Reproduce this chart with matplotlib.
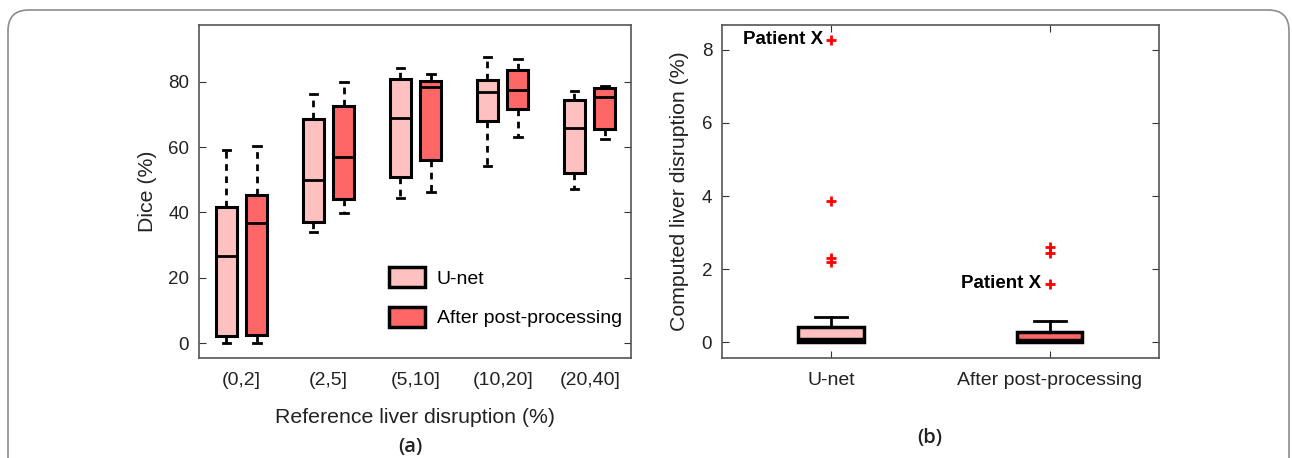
import matplotlib
import matplotlib.pyplot as plt
from matplotlib.patches import Patch, FancyBboxPatch

matplotlib.use('Agg')

plt.rcParams['font.family'] = ['Liberation Sans', 'DejaVu Sans']

# panel (a): dice per reference disruption bin
bins = ['(0,2]', '(2,5]', '(5,10]', '(10,20]', '(20,40]']
unet_lo = [0.0, 34.1, 44.3, 54.3, 47.3]
unet_q1 = [2.2, 37.0, 50.9, 67.9, 52.0]
unet_med = [26.5, 49.9, 69.0, 76.9, 65.9]
unet_q3 = [41.8, 68.6, 80.9, 80.7, 74.3]
unet_hi = [59.1, 76.2, 84.1, 87.6, 77.1]

post_lo = [0.0, 39.9, 46.2, 63.0, 62.5]
post_q1 = [2.5, 44.0, 56.2, 71.6, 65.6]
post_med = [36.9, 57.0, 78.5, 77.6, 75.4]
post_q3 = [45.4, 72.7, 80.2, 83.7, 78.0]
post_hi = [60.3, 80.0, 82.3, 87.1, 78.8]

# panel (b): computed disruption
methods = ['U-net', 'After post-processing']
b_lo = [0.0, 0.0]
b_q1 = [0.02, 0.02]
b_med = [0.10, 0.06]
b_q3 = [0.43, 0.29]
b_hi = [0.68, 0.57]
b_fliers = [[8.28, 3.87, 2.30, 2.21], [2.60, 2.45, 1.60]]
patient_x = [8.28, 1.60]

light = '#FFC0C0'
dark = '#FF6666'


def stats(lo, q1, med, q3, hi, fliers=None):
    out = []
    for i in range(len(med)):
        out.append(dict(whislo=lo[i], q1=q1[i], med=med[i], q3=q3[i], whishi=hi[i],
                        fliers=fliers[i] if fliers else []))
    return out


fig = plt.figure(figsize=(12.92, 4.58), dpi=100)

frame = FancyBboxPatch((8 / 1292, -0.2), 1281 / 1292, 1.2 - 10 / 458,
                       boxstyle='round,pad=0,rounding_size=0.016',
                       transform=fig.transFigure, fill=False, edgecolor='#8c8c8c', lw=1.2,
                       mutation_aspect=1292 / 458)
fig.patches.append(frame)

ax1 = fig.add_axes([0.154, 0.2183, 0.3344, 0.7271])
ax2 = fig.add_axes([0.5588, 0.2183, 0.3382, 0.7271])

pos_u = [1, 2, 3, 4, 5]
pos_p = [p + 0.35 for p in pos_u]
whisk = dict(color='black', lw=2, linestyle=(0, (2.4, 2.0)))
for st, pos, col in [(stats(unet_lo, unet_q1, unet_med, unet_q3, unet_hi), pos_u, light),
                     (stats(post_lo, post_q1, post_med, post_q3, post_hi), pos_p, dark)]:
    ax1.bxp(st, positions=pos, widths=0.24, patch_artist=True, showfliers=False,
            boxprops=dict(facecolor=col, edgecolor='black', lw=2.2),
            medianprops=dict(color='black', lw=2),
            whiskerprops=whisk, capprops=dict(color='black', lw=2), capwidths=0.09)

ax1.set_xlim(0.684, 5.65)
ax1.set_ylim(-4.6, 97.4)
ax1.set_yticks([0, 20, 40, 60, 80])
ax1.set_xticks([(u + p) / 2 for u, p in zip(pos_u, pos_p)])
ax1.set_xticklabels(bins)
ax1.set_ylabel('Dice (%)', fontsize=15.3, color='#222222', labelpad=8)
ax1.set_xlabel('Reference liver disruption (%)', fontsize=15.3, color='#222222', labelpad=13.5)
ax1.tick_params(axis='y', direction='in', right=True, length=5, labelsize=13.5, colors='#333333',
                labelcolor='#222222', pad=7)
ax1.tick_params(axis='x', length=0, labelsize=14, labelcolor='#222222', pad=10)

leg = ax1.legend(handles=[Patch(facecolor=light, edgecolor='black', lw=2.5, label='U-net'),
                          Patch(facecolor=dark, edgecolor='black', lw=2.5, label='After post-processing')],
                 loc='lower right', bbox_to_anchor=(1.019, 0.04), frameon=False, fontsize=14,
                 handlelength=1.85, handleheight=1.2, labelspacing=0.98, handletextpad=0.6)

st_b = stats(b_lo, b_q1, b_med, b_q3, b_hi, b_fliers)
parts = ax2.bxp(st_b, positions=[1, 2], widths=0.3, patch_artist=True,
                boxprops=dict(edgecolor='black', lw=2.5),
                medianprops=dict(color='black', lw=2.5),
                whiskerprops=dict(color='black', lw=2, linestyle='-'),
                capprops=dict(color='black', lw=2), capwidths=0.145,
                flierprops=dict(marker='+', markeredgecolor='red', markersize=7, markeredgewidth=2))
for box, col in zip(parts['boxes'], [light, dark]):
    box.set_facecolor(col)

for i, y in enumerate(patient_x):
    ax2.annotate('Patient X', xy=(i + 1, y), xytext=(-6, 0), textcoords='offset points',
                 ha='right', va='center', fontsize=13.5, fontweight='bold')

ax2.set_xlim(0.5, 2.5)
ax2.set_ylim(-0.43, 8.68)
ax2.set_yticks([0, 2, 4, 6, 8])
ax2.set_xticks([1, 2])
ax2.set_xticklabels(methods)
ax2.set_ylabel('Computed liver disruption (%)', fontsize=15.3, color='#222222', labelpad=9)
ax2.tick_params(axis='y', direction='in', right=True, length=5, labelsize=13.5, colors='#333333',
                labelcolor='#222222', pad=7)
ax2.tick_params(axis='x', direction='in', top=True, length=5, labelsize=14, colors='#333333',
                labelcolor='#222222', pad=10)

for ax in (ax1, ax2):
    for s in ax.spines.values():
        s.set_color('#555555')
        s.set_linewidth(1.2)

fig.text(410 / 1292, 1 - 447 / 458, '(a)', ha='center', va='center', fontsize=14.5, color='#222222',
         family=['Open Sans', 'DejaVu Sans'], fontweight='semibold')
fig.text(930 / 1292, 1 - 438 / 458, '(b)', ha='center', va='center', fontsize=14.5, color='#222222',
         family=['Open Sans', 'DejaVu Sans'], fontweight='semibold')

fig.savefig('out.png', dpi=100)
